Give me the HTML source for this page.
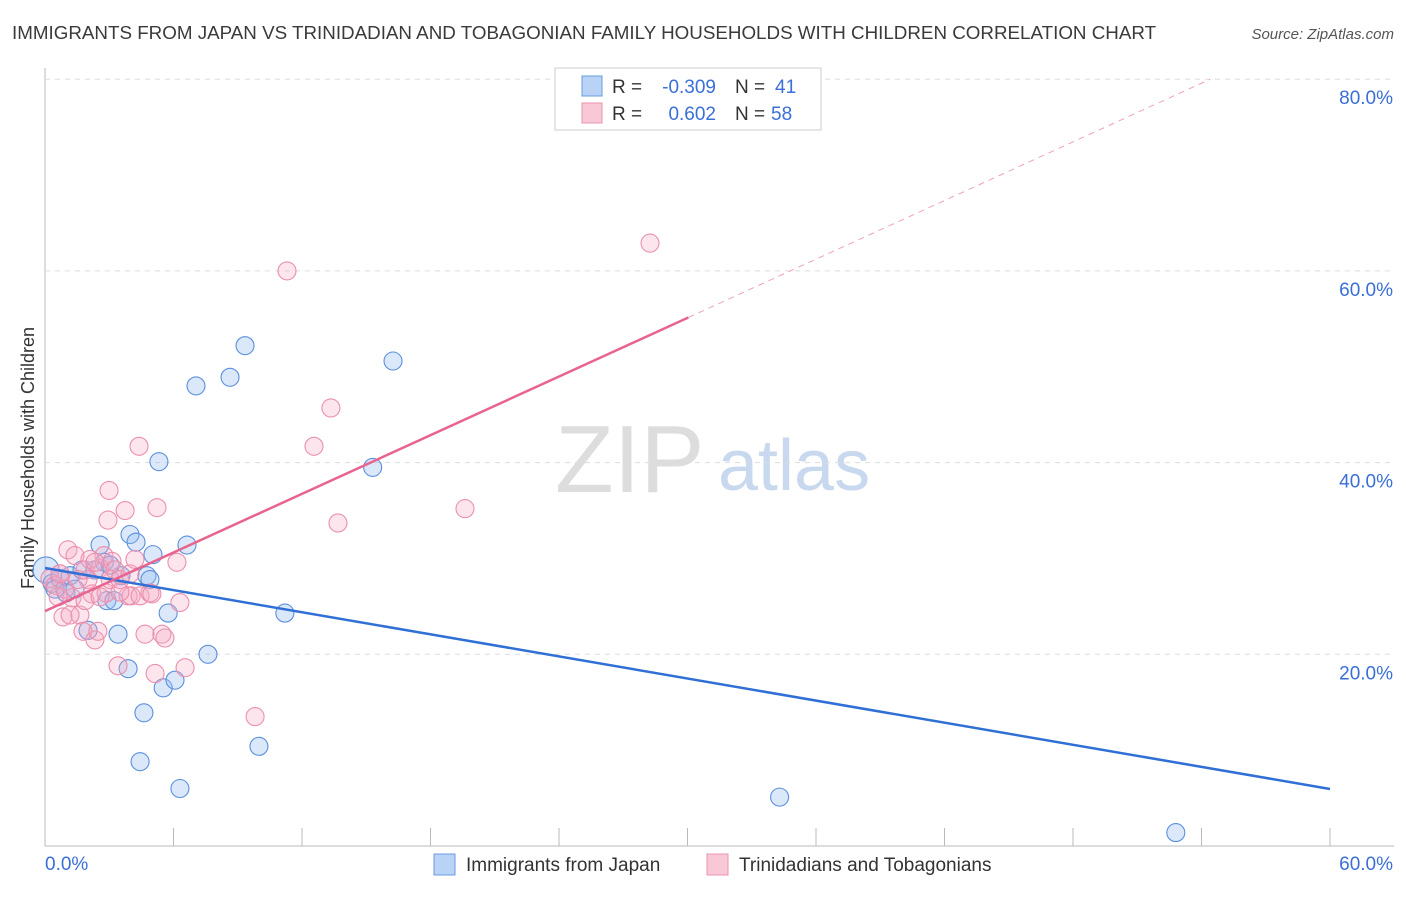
<!DOCTYPE html>
<html><head><meta charset="utf-8"><style>
body{margin:0;background:#fff;font-family:"Liberation Sans",sans-serif;}
svg text{font-family:"Liberation Sans",sans-serif;}
</style></head><body>
<svg id="c" width="1406" height="892">
<text x="12" y="39" font-size="18.8" fill="#3a3a3a">IMMIGRANTS FROM JAPAN VS TRINIDADIAN AND TOBAGONIAN FAMILY HOUSEHOLDS WITH CHILDREN CORRELATION CHART</text>
<text x="1394" y="39" font-size="15" fill="#555" font-style="italic" text-anchor="end">Source: ZipAtlas.com</text>
<text x="34" y="458" font-size="18" fill="#333" transform="rotate(-90 34 458)" text-anchor="middle">Family Households with Children</text>
<text x="555" y="492" font-size="96" fill="#ddd" font-family="Liberation Serif">ZIP</text>
<text x="718" y="490" font-size="72" fill="#c8d8ee">atlas</text>
<g id="grid"></g><g id="pts"></g><g id="lines"></g>
<g>
<rect x="555" y="68" width="266" height="62" fill="#fff" stroke="#ccc"/>
<rect x="582" y="76" width="20" height="20" fill="#b8d3f5" stroke="#6a9be0"/>
<rect x="582" y="103" width="20" height="20" fill="#f9c8d6" stroke="#ec93ad"/>
<text x="612" y="93" font-size="19" fill="#333">R =</text>
<text x="716" y="93" font-size="19" fill="#3a6fd8" text-anchor="end">-0.309</text>
<text x="735" y="93" font-size="19" fill="#333">N =</text>
<text x="775" y="93" font-size="19" fill="#3a6fd8">41</text>
<text x="612" y="120" font-size="19" fill="#333">R =</text>
<text x="716" y="120" font-size="19" fill="#3a6fd8" text-anchor="end">0.602</text>
<text x="735" y="120" font-size="19" fill="#333">N =</text>
<text x="771" y="120" font-size="19" fill="#3a6fd8">58</text>
</g>
<g>
<rect x="434" y="854" width="21" height="21" fill="#b8d3f5" stroke="#6a9be0"/>
<text x="466" y="871" font-size="19" fill="#333">Immigrants from Japan</text>
<rect x="707" y="854" width="21" height="21" fill="#f9c8d6" stroke="#ec93ad"/>
<text x="739" y="871" font-size="19" fill="#333">Trinidadians and Tobagonians</text>
</g>
</svg>
<script>
const yTicks=[20,40,60,80];
const xTickLabels=["0.0%","60.0%"];
const blueX=[0.05,0.33,0.7,0.98,1.17,1.73,2.57,2.77,2.89,3.22,3.41,3.55,3.88,3.97,4.25,4.62,4.76,5.04,5.32,5.75,5.52,6.07,6.63,6.3,4.44,7.05,7.61,8.64,9.34,9.99,11.2,15.3,16.25,34.3,52.8,0.47,1.4,2.33,2.01,3.04,4.9];
const blueY=[28.8,27.4,27.9,26.4,28.2,28.8,31.4,29.6,25.6,25.6,22.1,28.2,18.5,32.5,31.7,13.9,28.2,30.4,40.1,24.3,16.5,17.3,31.4,6.0,8.8,48.0,20.0,48.9,52.2,10.4,24.3,39.5,50.6,5.1,1.4,26.8,26.8,28.8,22.5,29.3,27.8];
const pinkX=[0.23,0.47,0.7,0.84,1.07,1.26,1.4,1.63,1.77,1.87,2.01,2.19,2.33,2.47,2.57,2.75,2.85,3.04,3.13,3.27,3.41,3.5,3.74,3.88,3.97,2.94,2.99,4.02,4.2,4.39,4.44,4.67,4.9,4.99,5.14,5.23,5.46,5.6,6.16,6.3,6.54,9.81,11.3,12.56,13.35,13.68,19.61,28.25,0.61,0.93,2.1,1.54,3.5,2.33,1.17,1.87,0.7,2.57];
const pinkY=[27.9,27.2,28.4,23.9,30.9,25.9,30.3,24.1,22.4,28.8,27.8,26.3,21.5,22.4,29.0,30.3,26.4,27.8,29.7,28.8,18.8,27.8,35.0,26.1,28.4,34.0,37.1,26.1,29.9,41.7,26.1,22.1,26.4,26.3,18.0,35.3,22.1,21.7,29.6,25.4,18.6,13.5,60.0,41.7,45.7,33.7,35.2,62.9,26.0,26.8,29.9,27.8,26.5,29.6,24.1,25.6,28.4,26.0];
const blueTrend=[29.0,5.95];
const pinkTrend=[24.5,1.02];
const X=v=>45+v*1285/60, Y=v=>846-v*9.585;
const NS="http://www.w3.org/2000/svg";
function mk(tag,at,parent){const e=document.createElementNS(NS,tag);for(const k in at)e.setAttribute(k,at[k]);document.getElementById(parent).appendChild(e);return e;}
let e=mk('line',{x1:45,y1:68,x2:45,y2:846,stroke:'#bbb'},'grid');

e=mk('line',{x1:45,y1:846,x2:1394,y2:846,stroke:'#bbb'},'grid');

for(let i=1;i<=10;i++){e=mk('line',{x1:X(i*6),x2:X(i*6),y1:828,y2:846,stroke:'#bbb'},'grid');
}
yTicks.forEach(t=>{e=mk('line',{x1:45,x2:1394,y1:Y(t),y2:Y(t),stroke:'#ddd','stroke-dasharray':'5,5'},'grid');

e=mk('text',{x:1393,y:Y(t)+25,'font-size':19,fill:'#3a6fd8','text-anchor':'end'},'grid');e.textContent=t.toFixed(1)+'%';
});
e=mk('text',{x:45,y:870,'font-size':19,fill:'#3a6fd8'},'grid');e.textContent=xTickLabels[0];

e=mk('text',{x:1393,y:870,'font-size':19,fill:'#3a6fd8','text-anchor':'end'},'grid');e.textContent=xTickLabels[1];

blueX.forEach((v,i)=>{e=mk('circle',{cx:X(v),cy:Y(blueY[i]),r:i==0?13:9,fill:'rgba(150,190,240,0.35)',stroke:'#5b8fdc','stroke-width':1.1},'pts');
});
pinkX.forEach((v,i)=>{e=mk('circle',{cx:X(v),cy:Y(pinkY[i]),r:9,fill:'rgba(246,170,195,0.3)',stroke:'#eb8fac','stroke-width':1.1},'pts');
});
e=mk('line',{x1:X(0),y1:Y(blueTrend[0]),x2:X(60),y2:Y(blueTrend[1]),stroke:'#2f6fd6','stroke-width':2.5},'lines');

const pxEnd=30.04, f=x=>pinkTrend[0]+pinkTrend[1]*x, xTop=(80-pinkTrend[0])/pinkTrend[1];
e=mk('line',{x1:X(0),y1:Y(f(0)),x2:X(pxEnd),y2:Y(f(pxEnd)),stroke:'#e8648f','stroke-width':2.5},'lines');

e=mk('line',{x1:X(pxEnd),y1:Y(f(pxEnd)),x2:X(xTop),y2:Y(80),stroke:'#eea0b8','stroke-width':1,'stroke-dasharray':'6,5'},'lines');

</script>
</body></html>
